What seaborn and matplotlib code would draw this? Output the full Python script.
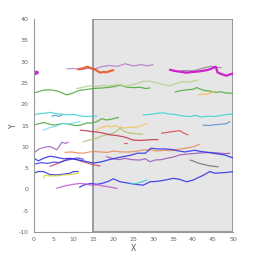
import matplotlib
matplotlib.use('Agg')
import matplotlib.pyplot as plt
from matplotlib.patches import Rectangle
import seaborn as sns

# trajectories (x, y pairs)
magenta_blob_x = [0.1, 0.3, 0.5, 0.7, 0.9, 1.0]
magenta_blob_y = [27.0, 27.4, 27.2, 27.6, 27.3, 27.5]

purple_top_x = [8.4, 10, 12, 14, 15.5, 17, 19, 21, 23, 25, 27, 28.5, 29.9]
purple_top_y = [28.3, 28.4, 28.1, 28.5, 28.3, 28.8, 29.1, 28.9, 29.5, 29.0, 29.3, 29.0, 29.3]

orange_top_x = [11.2, 12.5, 13.5, 14.5, 15.5, 16.2, 16.8, 17.5, 18.3, 19.2, 20.0]
orange_top_y = [28.2, 28.5, 28.8, 28.4, 28.1, 27.7, 27.4, 27.6, 27.5, 27.8, 28.0]

magenta_right_x = [34.2, 35.5, 37, 38.4, 40, 41.5, 43.4, 44.5, 45.1, 45.7, 46.1, 47, 48.4, 49.2, 50]
magenta_right_y = [28.1, 27.8, 27.6, 27.4, 27.6, 27.7, 28.0, 28.3, 28.6, 28.8, 27.5, 27.1, 26.7, 27.0, 27.2]

gray_top_x = [37.1, 38.4, 40, 41.5, 43.4, 44.5, 45.5, 47.0]
gray_top_y = [27.9, 27.9, 27.8, 28.2, 28.7, 28.9, 28.6, 28.6]

green_mid_x = [0, 2.5, 4.1, 6, 8.3, 9.5, 10.5, 11.7, 13.5, 15, 17, 19.2, 20.5, 21.7, 23.4, 25, 26.7, 28, 29.2]
green_mid_y = [22.6, 23.3, 23.4, 23.1, 22.2, 22.5, 22.9, 23.3, 23.5, 23.7, 23.8, 24.0, 24.2, 24.5, 24.0, 23.9, 24.0, 23.7, 23.8]

light_green_x = [10.8, 12.5, 14, 15.8, 17.5, 19, 20.5, 21.7, 23, 24.2, 26, 27.5, 29.2, 30.5, 32, 34.2, 35.5, 37.5, 39, 41.3]
light_green_y = [23.7, 24.0, 24.3, 24.2, 24.4, 24.3, 24.6, 24.6, 24.2, 24.5, 24.9, 25.4, 25.4, 25.1, 24.8, 24.3, 24.8, 25.3, 25.2, 25.7]

green_right_x = [35.5, 37, 38.5, 40, 40.9, 42, 43, 44.2, 45.5, 47, 48.5, 50]
green_right_y = [22.9, 23.2, 23.4, 23.5, 23.9, 23.5, 23.2, 23.1, 22.8, 22.9, 22.6, 22.6]

yellow_right_x = [41.2, 42.5, 43.5, 44.5, 45.5]
yellow_right_y = [22.2, 22.4, 22.3, 22.8, 23.0]

cyan_left_x = [0, 1.5, 3, 4.1, 5.5, 7, 8.3, 10, 11.5, 13.3, 14.5, 15.8]
cyan_left_y = [17.5, 17.8, 17.9, 18.1, 17.8, 17.7, 17.5, 17.6, 17.3, 17.1, 17.2, 17.2]

cyan_right_x = [27.5, 29, 30.5, 32.5, 34, 35.5, 37, 39.2, 40.5, 42, 44.2, 45.5, 47, 48.5, 50]
cyan_right_y = [17.5, 17.6, 17.8, 18.0, 17.7, 17.6, 17.3, 17.1, 17.4, 17.0, 17.2, 17.1, 17.4, 17.6, 17.7]

steel_left_x = [4.6, 5.5, 6.3, 7.1]
steel_left_y = [17.2, 17.4, 17.2, 17.4]

steel_right_x = [42.5, 44, 45.5, 47, 48.2, 49.2]
steel_right_y = [15.1, 15.0, 15.2, 15.3, 15.4, 15.9]

cyan_dot_x = [0.0, 0.3]
cyan_dot_y = [19.9, 20.1]

green_low_x = [0, 1.2, 2.5, 3.8, 5, 6.3, 7.5, 9, 10.5, 11.7, 13.3, 14.5, 15.8, 17.1, 18.3, 19.5, 21.3]
green_low_y = [15.1, 15.4, 15.7, 15.4, 15.1, 15.3, 15.5, 15.3, 15.0, 15.1, 15.6, 15.6, 15.9, 16.6, 16.3, 16.5, 16.9]

light_cyan_x = [2.4, 4, 5.5, 7.5, 8.5, 10, 11.7]
light_cyan_y = [13.9, 14.5, 14.8, 15.5, 15.4, 15.6, 15.9]

yellow_mid_x = [15.8, 16.8, 18.3, 19.5, 20.5, 21.7, 23, 24.2, 25.5, 26.7, 27.5, 28.4]
yellow_mid_y = [13.9, 14.5, 14.9, 14.7, 14.9, 14.6, 14.4, 14.7, 14.5, 14.9, 15.1, 15.4]

olive_x = [12.5, 14, 15.8, 17, 18.5, 19.9, 21, 21.7, 22.5, 24.2, 25.5, 27.4]
olive_y = [11.2, 11.6, 12.0, 12.5, 12.9, 13.2, 13.8, 14.5, 13.7, 13.2, 13.1, 13.0]

darkred_x = [11.7, 13, 14.5, 15.8, 17, 18, 19.2, 20.5, 22.4, 23.5, 24.9, 26.5, 28.4, 30, 31.2]
darkred_y = [13.9, 13.8, 13.6, 13.5, 13.3, 13.1, 12.8, 12.7, 12.4, 12.1, 11.6, 11.5, 11.6, 11.7, 11.7]

pink_small_x = [22.8, 23.5]
pink_small_y = [10.9, 10.9]

red_right_x = [32.1, 33.5, 35, 36.7, 37.5, 38.7]
red_right_y = [13.2, 13.4, 13.6, 13.8, 13.3, 12.8]

purple_left_x = [0, 0.8, 1.6, 2.8, 4.1, 5, 5.8, 6.5, 7.1, 8.0, 8.7]
purple_left_y = [8.5, 9.1, 9.6, 9.9, 10.1, 9.7, 9.3, 10.2, 11.1, 10.8, 11.1]

salmon_x = [7.9, 9.5, 11, 12.5, 14, 15.5, 16.7, 18.5, 20, 22, 24.2, 26, 27.5, 29.5, 31, 32.5, 34.5, 36, 38.3, 40, 41.6]
salmon_y = [8.7, 8.8, 8.6, 8.5, 8.8, 8.9, 8.8, 8.7, 9.0, 8.8, 8.8, 9.0, 9.3, 9.3, 9.0, 9.2, 9.1, 9.4, 9.7, 10.0, 10.6]

blue_long_x = [0, 1.2, 2.5, 4.1, 5.5, 7.5, 9, 10.8, 12.5, 15, 16.5, 17.5, 19, 20.9, 22.5, 24.2, 26, 28, 29.5,
               31, 32.9, 34.5, 36, 37.9, 40.4, 42, 43, 45, 47.9, 50]
blue_long_y = [7.4, 6.7, 7.3, 7.8, 7.6, 7.2, 7.3, 7.0, 6.7, 6.2, 6.4, 6.6, 7.0, 7.4, 7.7, 8.0, 8.5, 8.5, 9.7,
               9.5, 9.5, 9.4, 9.1, 8.8, 9.2, 8.9, 8.8, 8.5, 8.1, 7.4]

blue_two_x = [0.5, 2, 3.5, 5, 6.5, 8, 9.5, 11, 12.5]
blue_two_y = [6.0, 6.3, 6.1, 6.4, 6.3, 6.8, 7.1, 7.4, 7.1]

red_brown_x = [4.1, 5.5, 7, 8.3, 9.5, 10.8, 12, 13.5, 15, 16.7]
red_brown_y = [5.4, 5.9, 6.5, 7.0, 7.3, 7.0, 6.6, 6.2, 5.8, 5.5]

purple_right_x = [18.3, 20, 21.5, 23, 24.5, 26.7, 28, 29.2, 30.5, 32, 33.4, 35, 36.7, 38.5, 40.9, 42.5, 44, 46, 48, 49.2]
purple_right_y = [7.7, 7.2, 7.0, 7.3, 7.0, 6.9, 7.2, 6.5, 6.9, 7.0, 7.3, 7.6, 8.1, 8.3, 8.5, 8.6, 8.7, 8.6, 8.4, 8.5]

blue_four_x = [0, 1.2, 2.5, 4.1, 5.8, 7.5, 9.1, 10, 11.2]
blue_four_y = [3.8, 4.2, 4.2, 3.5, 3.4, 3.6, 3.8, 4.2, 4.2]

yellow_low_x = [2.5, 2.7, 4, 5.8, 7.5, 9.1, 11.2]
yellow_low_y = [2.6, 3.3, 3.2, 3.2, 3.4, 3.5, 3.8]

blue_low_x = [11.5, 12.5, 14.2, 16, 17.5, 19, 20, 21.7, 23, 24.2, 25.5, 27.5, 29.2, 31, 33, 35, 36.5, 38.4,
              40, 40.9, 42.5, 44.2, 45.5, 47, 48.5, 50]
blue_low_y = [0.5, 1.0, 1.4, 1.2, 1.5, 2.0, 2.5, 1.8, 1.6, 1.4, 1.2, 1.0, 1.8, 1.9, 2.2, 2.6, 2.4, 1.8,
              2.2, 2.6, 3.3, 4.2, 3.8, 3.9, 4.0, 4.2]

magenta_low_x = [5.8, 7, 8.3, 10, 11.5, 13, 14.5, 16, 17.5, 18.3, 19.5, 20.9]
magenta_low_y = [0.3, 0.6, 0.9, 1.2, 1.4, 1.3, 1.0, 1.1, 0.8, 0.7, 0.5, 0.2]

teal_small_x = [24.2, 25.5, 26.5, 27.5, 28.4]
teal_small_y = [1.5, 1.3, 1.6, 1.9, 2.2]

gray_low_x = [39.2, 40, 40.9, 42, 43.4, 44.5, 46.3]
gray_low_y = [6.9, 6.7, 6.3, 6.0, 5.7, 5.5, 5.3]

x_ticks = list(range(0, 51, 5))
y_ticks = list(range(-10, 41, 5))

tracks = [
    (magenta_blob_x, magenta_blob_y, '#cc00cc', 2.0),
    (purple_top_x, purple_top_y, '#b07cc6', 0.9),
    (orange_top_x, orange_top_y, '#e8501a', 1.6),
    (gray_top_x, gray_top_y, '#888888', 0.9),
    (magenta_right_x, magenta_right_y, '#cc00cc', 1.6),
    (green_mid_x, green_mid_y, '#4aa83a', 0.9),
    (light_green_x, light_green_y, '#b5d08a', 0.9),
    (green_right_x, green_right_y, '#4aa83a', 0.9),
    (yellow_right_x, yellow_right_y, '#f0c050', 0.9),
    (cyan_left_x, cyan_left_y, '#40d0d0', 0.9),
    (cyan_right_x, cyan_right_y, '#40d0d0', 0.9),
    (steel_left_x, steel_left_y, '#5a8fd0', 0.9),
    (steel_right_x, steel_right_y, '#5a8fd0', 0.9),
    (cyan_dot_x, cyan_dot_y, '#40b0e0', 1.2),
    (green_low_x, green_low_y, '#4aa83a', 0.9),
    (light_cyan_x, light_cyan_y, '#70e0f0', 0.9),
    (yellow_mid_x, yellow_mid_y, '#f2c35a', 0.9),
    (olive_x, olive_y, '#a8c86a', 0.9),
    (darkred_x, darkred_y, '#c0304a', 0.9),
    (pink_small_x, pink_small_y, '#e05070', 0.9),
    (red_right_x, red_right_y, '#e04848', 0.9),
    (purple_left_x, purple_left_y, '#a060c0', 0.9),
    (salmon_x, salmon_y, '#e88a5a', 0.9),
    (red_brown_x, red_brown_y, '#c04a60', 0.9),
    (purple_right_x, purple_right_y, '#9a58b8', 0.9),
    (blue_long_x, blue_long_y, '#2a2ae8', 0.9),
    (blue_two_x, blue_two_y, '#3a3ae8', 0.9),
    (blue_four_x, blue_four_y, '#2a2ae8', 0.9),
    (yellow_low_x, yellow_low_y, '#d8d030', 0.9),
    (blue_low_x, blue_low_y, '#2a2ae8', 0.9),
    (magenta_low_x, magenta_low_y, '#c050d8', 0.9),
    (teal_small_x, teal_small_y, '#40c8d0', 0.9),
    (gray_low_x, gray_low_y, '#707070', 0.9),
]

sns.set_style("white")
plt.rcParams['axes.unicode_minus'] = False
fig = plt.figure(figsize=(2.58, 2.61), dpi=100)
ax = fig.add_axes([0.130, 0.111, 0.773, 0.816])

# shaded region
ax.add_patch(Rectangle((15, -10), 35, 50, facecolor='#e6e6e6', edgecolor='#8c8c8c', lw=1.2, zorder=0))

for xs, ys, col, lw in tracks:
    sns.lineplot(x=xs, y=ys, sort=False, estimator=None, color=col, lw=lw, alpha=0.85, ax=ax)

ax.set_xlim(0, 50)
ax.set_ylim(-10, 40)
ax.set_xticks(x_ticks)
ax.set_yticks(y_ticks)
ax.tick_params(labelsize=4.5, colors='#666666', length=1.5, width=0.5, pad=2)
ax.set_xlabel('X', fontsize=5.5, color='#555555')
ax.set_ylabel('Y', fontsize=5.5, color='#555555')
ax.yaxis.set_label_coords(-0.08, 0.5)
ax.xaxis.set_label_coords(0.5, -0.055)
for side in ['top', 'right']:
    ax.spines[side].set_visible(False)
for side in ['left', 'bottom']:
    ax.spines[side].set_color('#999999')
    ax.spines[side].set_linewidth(0.8)

fig.savefig('out.png', dpi=100)
